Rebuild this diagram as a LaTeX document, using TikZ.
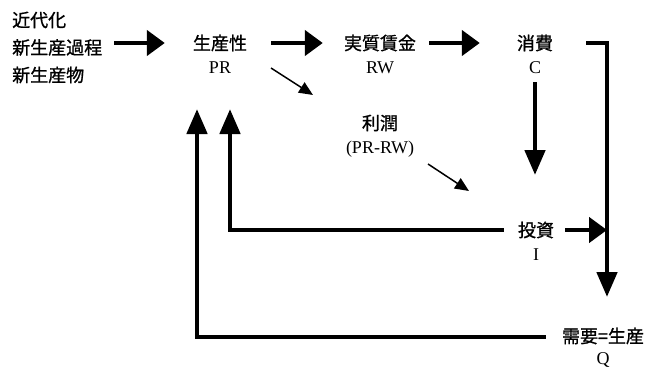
\documentclass[tikz,border=0pt]{standalone}
\usepackage{fontspec}
\setmainfont{Liberation Serif}
\newfontfamily\cjk[FakeBold=1]{Noto Sans CJK JP}
\usetikzlibrary{arrows.meta}
\begin{document}
\begin{tikzpicture}[x=1pt,y=-1pt,
  hbig/.style={line width=4.7pt,-{Triangle[length=18pt,width=25pt]}},
  vbig/.style={line width=4.7pt,-{Triangle[length=25pt,width=20pt]}},
  thinarr/.style={line width=1.5pt,-{Triangle[length=14pt,width=12pt]}},
  jp/.style={font=\cjk\fontsize{18}{27.5}\selectfont,inner sep=0pt},
  lat/.style={font=\fontsize{18}{22}\selectfont,inner sep=0pt}]
\useasboundingbox (0,0) rectangle (650,370);

\node[jp,align=left,anchor=west] (src) at (12,47.5) {近代化\\新生産過程\\新生産物};
\node[jp] (prod) at (220,43) {生産性};
\node[lat] (prodS) at (220,68) {PR};
\node[jp] (rw) at (380,43) {実質賃金};
\node[lat] (rwS) at (380,68) {RW};
\node[jp] (cons) at (535,43) {消費};
\node[lat] (consS) at (535,68) {C};
\node[jp] (prof) at (380,123) {利潤};
\node[lat] (profS) at (380,149) {(PR-RW)};
\node[jp] (inv) at (536,230) {投資};
\node[lat] (invS) at (536,255) {I};
\node[jp] (dem) at (603,336) {需要=生産};
\node[lat] (demS) at (603,360) {Q};

\coordinate (crn) at (607,43);
\coordinate (qin) at (607,297);
\coordinate (join) at (607,230);
\coordinate (pr2) at (313,95);
\coordinate (prw2) at (469,191);
\coordinate (upA) at (197,109);
\coordinate (upB) at (230,109);
\coordinate (cdown) at (535,175);

\draw[hbig] ([xshift=12pt]src.east |- prod.center) -- ([xshift=-28pt]prod.west);
\draw[hbig] ([xshift=24pt]prod.east) -- ([xshift=-21pt]rw.west);
\draw[hbig] ([xshift=13pt]rw.east) -- ([xshift=-37pt]cons.west);
\draw[vbig] ([xshift=33pt]cons.east) -- (crn) -- (qin);
\draw[vbig] ([yshift=-8pt]consS.south) -- (cdown);
\draw[hbig] ([xshift=11pt]inv.east) -- (join);
\draw[vbig] ([xshift=-14pt]inv.west) -| (upB);
\draw[vbig] ([xshift=-16pt,yshift=-1pt]dem.west) -| (upA);
\draw[thinarr] ([xshift=51pt]prodS.center) -- (pr2);
\draw[thinarr] ([xshift=48pt,yshift=-15pt]profS.center) -- (prw2);
\end{tikzpicture}
\end{document}
